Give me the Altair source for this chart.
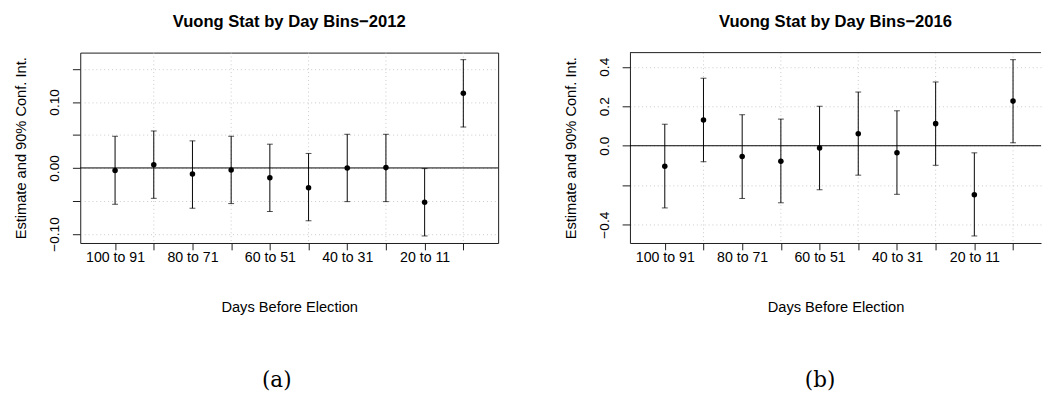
import altair as alt
import pandas as pd

bins = ["100 to 91", "90 to 81", "80 to 71", "70 to 61", "60 to 51",
        "50 to 41", "40 to 31", "30 to 21", "20 to 11", "10 to 1"]
pos = list(range(1, 11))

est_2012 = [-0.004, 0.005, -0.009, -0.003, -0.015, -0.030, 0.000, 0.0005, -0.052, 0.113]
lo_2012 = [-0.055, -0.046, -0.061, -0.054, -0.066, -0.080, -0.051, -0.051, -0.103, 0.062]
hi_2012 = [0.048, 0.056, 0.041, 0.048, 0.036, 0.022, 0.051, 0.051, -0.001, 0.164]

est_2016 = [-0.104, 0.130, -0.054, -0.079, -0.012, 0.061, -0.035, 0.112, -0.248, 0.226]
lo_2016 = [-0.315, -0.081, -0.267, -0.289, -0.223, -0.149, -0.246, -0.099, -0.457, 0.015]
hi_2016 = [0.109, 0.342, 0.157, 0.135, 0.200, 0.272, 0.177, 0.323, -0.036, 0.436]

yticks_2012 = [-0.10, -0.05, 0.0, 0.05, 0.10, 0.15]
ylabels_2012 = [-0.10, 0.0, 0.10]
yticks_2016 = [-0.4, -0.2, 0.0, 0.2, 0.4]
ylabels_2016 = [-0.4, 0.0, 0.2, 0.4]
xgrid = [2, 4, 6, 8, 10]
ref_line = [0.0]
titles = ["Vuong Stat by Day Bins\u22122012", "Vuong Stat by Day Bins\u22122016"]
captions = ["(a)", "(b)"]

H = 195
FONT = "Liberation Sans"
INK = "#1a1a1a"


def panel(est, lo, hi, yticks, ylabels, fmt, title, width, box):
    df = pd.DataFrame({"pos": pos, "bin": bins, "est": est, "lo": lo, "hi": hi})
    ymin, ymax = min(lo), max(hi)
    r = ymax - ymin
    ydom = [ymin - 0.04 * r, ymax + 0.04 * r]
    xmax = 0.1 + 10.8 * width / 428.0
    xs = alt.Scale(domain=[0.1, xmax], nice=False, zero=False)
    ys = alt.Scale(domain=ydom, nice=False, zero=False)
    label_arr = "[" + ",".join("'" + b + "'" for b in bins) + "]"
    xaxis = alt.Axis(
        values=pos,
        labelExpr="datum.value % 2 == 1 ? " + label_arr + "[datum.value - 1] : ''",
        title="Days Before Election", grid=False, tickSize=7, labelPadding=1,
        labelFontSize=14.5, titleFontSize=15, titleY=70, titleBaseline="alphabetic",
        domain=not box, domainColor=INK, tickColor=INK, labelFlush=False,
        labelOverlap=False,
    )
    ylab = "[" + ",".join(repr(v) for v in ylabels) + "]"
    yaxis = alt.Axis(
        values=yticks,
        labelExpr="indexof(" + ylab + ", datum.value) >= 0 ? format(datum.value, '" + fmt + "') : ''",
        labelAngle=270, labelAlign="center", labelBaseline="alphabetic",
        labelPadding=14, tickSize=8, grid=True, gridDash=[1, 3], gridColor="#c8c8c8",
        title="Estimate and 90% Conf. Int.", titleAngle=270, titleX=-56, titleY=H / 2,
        titleAlign="center", titleBaseline="alphabetic", titleFontSize=15,
        labelFontSize=14, domain=not box, domainColor=INK, tickColor=INK,
        labelFlush=False, labelOverlap=False,
    )
    base = alt.Chart(df)
    gdf = pd.DataFrame({"g": xgrid})
    zdf = pd.DataFrame({"z": ref_line})
    grid = alt.Chart(gdf).mark_rule(color="#c8c8c8", strokeDash=[1, 3], strokeWidth=1).encode(
        x=alt.X("g:Q", scale=xs, axis=xaxis)
    )
    zero = alt.Chart(zdf).mark_rule(color="black", strokeWidth=1).encode(
        y=alt.Y("z:Q", scale=ys, axis=yaxis)
    )
    bars = base.mark_rule(color="black", strokeWidth=1).encode(
        x=alt.X("pos:Q", scale=xs, axis=xaxis),
        y=alt.Y("lo:Q", scale=ys, axis=yaxis),
        y2="hi:Q",
    )
    cap_lo = base.mark_tick(color="black", orient="horizontal", size=6, thickness=1).encode(
        x=alt.X("pos:Q", scale=xs, axis=xaxis), y=alt.Y("lo:Q", scale=ys, axis=yaxis)
    )
    cap_hi = base.mark_tick(color="black", orient="horizontal", size=6, thickness=1).encode(
        x=alt.X("pos:Q", scale=xs, axis=xaxis), y=alt.Y("hi:Q", scale=ys, axis=yaxis)
    )
    pts = base.mark_point(filled=True, shape="circle", size=32, color="black", opacity=1).encode(
        x=alt.X("pos:Q", scale=xs, axis=xaxis), y=alt.Y("est:Q", scale=ys, axis=yaxis)
    )
    layers = [grid, zero, bars, cap_lo, cap_hi, pts]
    if not box:
        top = alt.Chart(zdf).mark_rule(color=INK, strokeWidth=1).encode(
            y=alt.datum(ydom[1], scale=ys, axis=yaxis)
        )
        layers.append(top)
    kw = {}
    if not box:
        kw["view"] = alt.ViewBackground(stroke=None)
    ch = alt.layer(*layers, **kw).properties(
        width=width, height=H,
        title=alt.Title(title, fontSize=17, fontWeight="bold", font=FONT, offset=22,
                        anchor="middle", frame="group", color="black"),
    )
    return ch


pa = panel(est_2012, lo_2012, hi_2012, yticks_2012, ylabels_2012, ".2f", titles[0], 428, True)
pb = panel(est_2016, lo_2016, hi_2016, yticks_2016, ylabels_2016, ".1f", titles[1], 421, False)


def wrap(ch, cap, dx):
    return alt.vconcat(ch, title=alt.Title(cap, orient="bottom", font="DejaVu Serif", fontSize=22,
                                           fontWeight="normal", offset=57, anchor="middle",
                                           color="black", dx=dx))


chart = alt.hconcat(wrap(pa, captions[0], 21), wrap(pb, captions[1], 18), spacing=66).properties(
    padding={"left": 5, "top": 0, "right": 0, "bottom": 0}
).configure_view(stroke=INK, strokeWidth=1).configure_axis(
    labelFont=FONT, titleFont=FONT, labelColor="black", titleColor="black",
    titleFontWeight="normal"
)

chart.save("out.html", embed_options={"renderer": "svg", "actions": False})
